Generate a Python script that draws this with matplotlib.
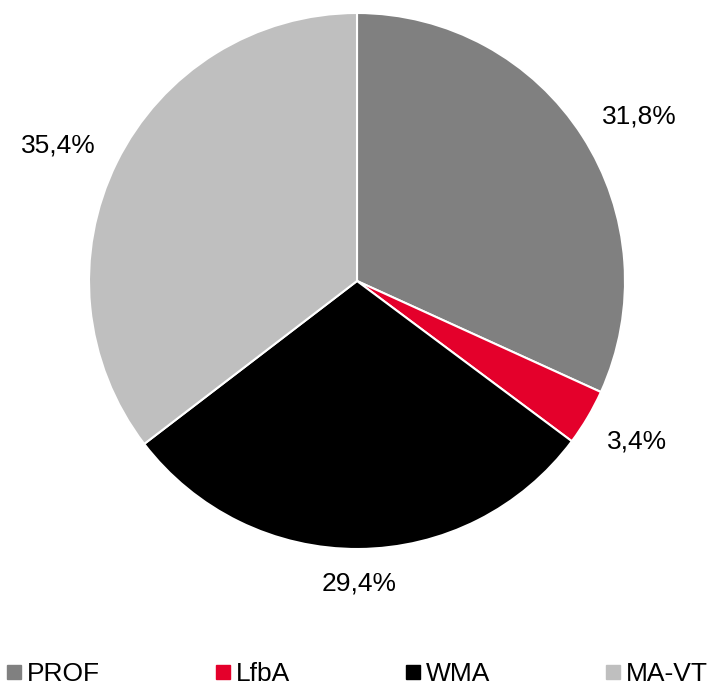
import numpy as np
import matplotlib
matplotlib.use("Agg")
import matplotlib.pyplot as plt
from matplotlib.lines import Line2D

plt.rcParams['font.family'] = ['Liberation Sans', 'DejaVu Sans']

categories = ["PROF", "LfbA", "WMA", "MA-VT"]
shares = [31.8, 3.4, 29.4, 35.4]
labels = ["31,8%", "3,4%", "29,4%", "35,4%"]
colors = ["#808080", "#E4002B", "#000000", "#BFBFBF"]

W, H = 714, 688
fig = plt.figure(figsize=(W / 100, H / 100), dpi=100)
fig.patch.set_facecolor("white")

# pie centre (357, 281) px from top-left, radius 268 px
R_PX = 268
cx, cy = 357, 281
ax = fig.add_axes([(cx - R_PX) / W, (H - cy - R_PX) / H, 2 * R_PX / W, 2 * R_PX / H])

wedges, _ = ax.pie(shares, colors=colors, startangle=90, counterclock=False,
                   wedgeprops=dict(edgecolor="white", linewidth=1.5))
ax.set_xlim(-1, 1)
ax.set_ylim(-1, 1)
ax.set_aspect("equal")

FS = 19
cap_px = 0.716 * FS * 100 / 72
texts = [ax.text(0, 0, lab, ha="center", va="baseline", fontsize=FS, color="black")
         for lab in labels]

fig.canvas.draw()
renderer = fig.canvas.get_renderer()
dist = R_PX + 23  # px from centre to the label's nearest corner
for w, t in zip(wedges, texts):
    ang = np.deg2rad((w.theta1 + w.theta2) / 2)
    c, s = np.cos(ang), np.sin(ang)
    bw = t.get_window_extent(renderer).width
    px = dist * c + bw / 2 * np.clip(3 * c, -1, 1)
    py = dist * s + cap_px / 2 * np.clip(3 * s, -1, 1)
    t.set_position((px / R_PX, (py - cap_px / 2) / R_PX))

handles = [Line2D([], [], marker="s", linestyle="none", markersize=9.5,
                  markerfacecolor=c, markeredgecolor=c) for c in colors]
fig.legend(handles, categories, loc="center", bbox_to_anchor=(0.5, 14 / H),
           ncol=4, frameon=False, fontsize=FS, handlelength=0.6,
           handletextpad=0.2, columnspacing=4.35, borderpad=0)

fig.savefig("out.png", dpi=100, facecolor="white")
